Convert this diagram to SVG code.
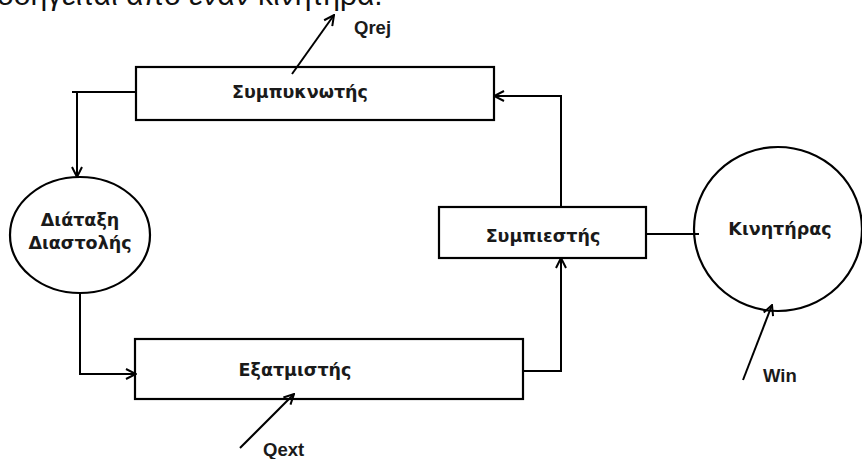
<svg xmlns="http://www.w3.org/2000/svg" width="862" height="459" viewBox="0 0 862 459">
<defs>
<marker id="arr" viewBox="0 0 12 12" refX="11" refY="6" markerWidth="12" markerHeight="12" markerUnits="userSpaceOnUse" orient="auto">
<path d="M1,1 L11,6 L1,11" fill="none" stroke="#000" stroke-width="2"/>
</marker>
<style>
.box{fill:#fff;stroke:#000;stroke-width:2.2}
.lbl{font-family:"DejaVu Sans",sans-serif;font-weight:bold;font-size:17.5px;fill:#1a1a1a;text-anchor:middle}
.sm{font-family:"Liberation Sans",Arial,sans-serif;font-weight:bold;font-size:18.5px;fill:#1a1a1a}
.ln{fill:none;stroke:#000;stroke-width:2}
</style>
</defs>
<rect width="862" height="459" fill="#fff"/>
<text x="-3" y="5" font-family="Liberation Sans, Arial, sans-serif" font-size="30" fill="#111">οδηγείται από έναν κινητήρα.</text>
<g id="condenser">
<rect class="box" x="136" y="67" width="358" height="53"/>
<text class="lbl" x="300" y="98">Συμπυκνωτής</text>
</g>
<g id="expansion">
<ellipse class="box" cx="80" cy="235" rx="70" ry="58"/>
<text class="lbl" x="80" y="226">Διάταξη</text>
<text class="lbl" x="80" y="249">Διαστολής</text>
</g>
<g id="evaporator">
<rect class="box" x="135" y="339" width="388" height="60"/>
<text class="lbl" x="295" y="376">Εξατμιστής</text>
</g>
<g id="compressor">
<rect class="box" x="439" y="207" width="207" height="51"/>
<text class="lbl" x="543" y="242">Συμπιεστής</text>
</g>
<g id="motor">
<ellipse class="box" cx="778" cy="229" rx="84" ry="82"/>
<text class="lbl" x="780" y="235">Κινητήρας</text>
</g>
<g id="connectors">
<path class="ln" d="M136,92 H72"/>
<path class="ln" d="M77,92 V177" marker-end="url(#arr)"/>
<path class="ln" d="M80,293 V374 H136" marker-end="url(#arr)"/>
<path class="ln" d="M523,371 H561 V258" marker-end="url(#arr)"/>
<path class="ln" d="M561,207 V96 H494" marker-end="url(#arr)"/>
<path class="ln" d="M646,234 H699"/>
<path class="ln" d="M292,74 L334,15" marker-end="url(#arr)"/>
<path class="ln" d="M240,448 L294,394" marker-end="url(#arr)"/>
<path class="ln" d="M743,380 L772,305" marker-end="url(#arr)"/>
</g>
<text class="sm" x="354" y="34">Qrej</text>
<text class="sm" x="263" y="456">Qext</text>
<text class="sm" x="763" y="382">Win</text>
</svg>
